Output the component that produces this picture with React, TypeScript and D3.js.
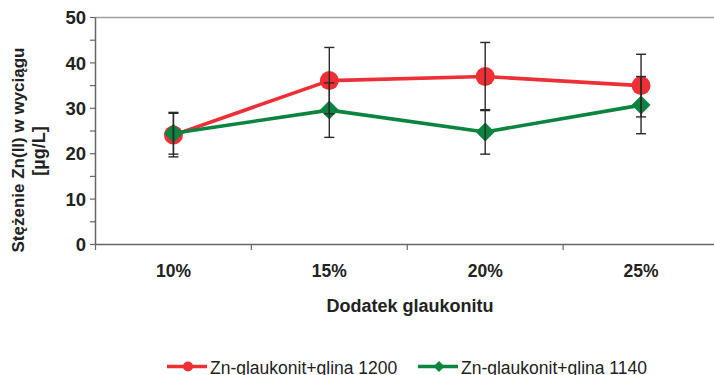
import React from "react";
import * as d3 from "d3";

// Glauconite addition levels
const categories = ["10%", "15%", "20%", "25%"];

// Zn(II) concentration in the extract [µg/L] and standard deviations
const seriesNames = ["Zn-glaukonit+glina 1200", "Zn-glaukonit+glina 1140"];
const values1200 = [24.1, 36.1, 37.0, 35.0];
const errors1200 = [4.8, 7.3, 7.5, 6.9];
const values1140 = [24.5, 29.6, 24.8, 30.7];
const errors1140 = [4.6, 6.0, 4.9, 6.3];

const yTicks = [0, 10, 20, 30, 40, 50];
const yMinorTicks = [0, 5, 10, 15, 20, 25, 30, 35, 40, 45, 50];

const W = 714;
const H = 375;
const RED = "#ee2f35";
const GREEN = "#0b843f";
const FONT = "'Liberation Sans', Arial, sans-serif";

function diamond(cx: number, cy: number, r: number) {
  return `M${cx},${cy - r}L${cx + r},${cy}L${cx},${cy + r}L${cx - r},${cy}Z`;
}

export default function App() {
  const left = 95.5;
  const right = 719;
  const top = 17.5;
  const bottom = 244.5;

  const x = d3.scaleBand<string>().domain(categories).range([left, right]);
  const y = d3.scaleLinear().domain([0, 50]).range([bottom, top]);
  const cx = (c: string) => (x(c) as number) + x.bandwidth() / 2;

  const line = d3
    .line<number>()
    .x((_, i) => cx(categories[i]))
    .y((d) => y(d));

  const series = [
    { name: seriesNames[0], values: values1200, errors: errors1200, color: RED, shape: "circle" },
    { name: seriesNames[1], values: values1140, errors: errors1140, color: GREEN, shape: "diamond" },
  ];

  const boundaries = [...categories.map((c) => x(c) as number), right];

  return (
    <svg
      width={W}
      height={H}
      style={{ position: "absolute", left: 0, top: 0, background: "#fff" }}
      fontFamily={FONT}
    >
      {/* plot frame top edge */}
      <line x1={left} x2={W} y1={top} y2={top} stroke="#a0a0a0" strokeWidth={1.5} />

      {/* y axis */}
      <line x1={left} x2={left} y1={top} y2={bottom} stroke="#666" strokeWidth={1.5} />
      {yMinorTicks.map((t) => (
        <line key={"ym" + t} x1={left - 5.5} x2={left} y1={y(t)} y2={y(t)} stroke="#666" strokeWidth={1.2} />
      ))}
      {yTicks.map((t) => (
        <text
          key={"yl" + t}
          x={86}
          y={y(t)}
          dy="0.36em"
          textAnchor="end"
          fontSize={18.5}
          fontWeight="bold"
          fill="#222"
        >
          {t}
        </text>
      ))}

      {/* x axis */}
      <line x1={left} x2={W} y1={bottom} y2={bottom} stroke="#666" strokeWidth={1.5} />
      {boundaries.map((b, i) => (
        <line key={"xt" + i} x1={b} x2={b} y1={bottom} y2={bottom + 5.5} stroke="#666" strokeWidth={1.2} />
      ))}
      {categories.map((c) => (
        <text key={"xl" + c} x={cx(c)} y={277} textAnchor="middle" fontSize={17.5} fontWeight="bold" fill="#222">
          {c}
        </text>
      ))}

      {/* axis titles */}
      <text x={410} y={312} textAnchor="middle" fontSize={18} fontWeight="bold" fill="#222">
        Dodatek glaukonitu
      </text>
      <text
        transform="translate(24,150) rotate(-90)"
        textAnchor="middle"
        fontSize={17}
        fontWeight="bold"
        fill="#222"
      >
        Stężenie Zn(II) w wyciągu
      </text>
      <text
        transform="translate(45,151) rotate(-90)"
        textAnchor="middle"
        fontSize={18}
        fontWeight="bold"
        fill="#222"
      >
        [µg/L]
      </text>

      {/* series lines and markers */}
      {series.map((s) => (
        <g key={s.name}>
          <path d={line(s.values) as string} fill="none" stroke={s.color} strokeWidth={3.6} strokeLinejoin="round" />
          {s.values.map((v, i) =>
            s.shape === "circle" ? (
              <circle key={i} cx={cx(categories[i])} cy={y(v)} r={9.5} fill={s.color} />
            ) : (
              <path key={i} d={diamond(cx(categories[i]), y(v), 9.5)} fill={s.color} />
            )
          )}
        </g>
      ))}

      {/* error bars */}
      {series.map((s) => (
        <g key={"err" + s.name} stroke="#2a2a2a" strokeWidth={1.4}>
          {s.values.map((v, i) => {
            const px = cx(categories[i]);
            const hi = y(v + s.errors[i]);
            const lo = y(v - s.errors[i]);
            return (
              <g key={i}>
                <line x1={px} x2={px} y1={hi} y2={lo} />
                <line x1={px - 5} x2={px + 5} y1={hi} y2={hi} />
                <line x1={px - 5} x2={px + 5} y1={lo} y2={lo} />
              </g>
            );
          })}
        </g>
      ))}

      {/* legend */}
      {series.map((s, i) => {
        const lx = i === 0 ? 167 : 418;
        const ly = 366.5;
        return (
          <g key={"lg" + s.name}>
            <line x1={lx} x2={lx + 40} y1={ly} y2={ly} stroke={s.color} strokeWidth={3.4} />
            {s.shape === "circle" ? (
              <circle cx={lx + 21} cy={ly} r={5} fill={s.color} />
            ) : (
              <path d={diamond(lx + 21, ly, 5.5)} fill={s.color} />
            )}
            <text x={lx + 43} y={373.5} fontSize={17.5} fill="#222">
              {s.name}
            </text>
          </g>
        );
      })}
    </svg>
  );
}
